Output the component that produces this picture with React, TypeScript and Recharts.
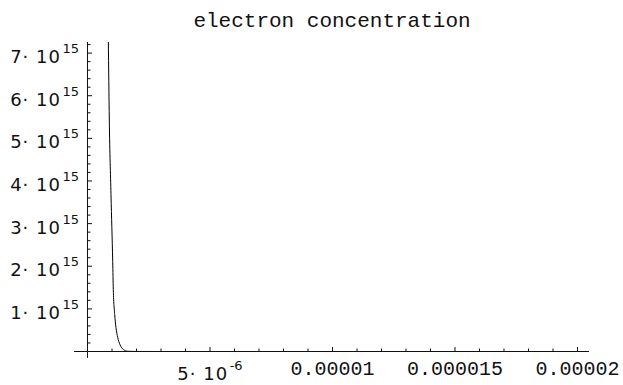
import React from 'react';
import { LineChart, Line, XAxis, YAxis, ReferenceLine } from 'recharts';

// position (m) and electron concentration (1/cm^3)
const positions = [0.82e-6, 0.849e-6, 0.89e-6, 0.959e-6, 1.029e-6, 1.053e-6, 1.11e-6, 1.163e-6, 1.233e-6, 1.327e-6, 1.461e-6, 1.65e-6, 2.0e-6, 3e-6, 5e-6, 10e-6, 15e-6, 20e-6];
const concentration = [8.6e15, 7.31e15, 5.43e15, 3.68e15, 2.11e15, 1.45e15, 0.87e15, 0.56e15, 0.33e15, 0.16e15, 0.047e15, 0.005e15, 0.0005e15, 0, 0, 0, 0, 0];

const xMajorTicks = [5e-6, 1e-5, 1.5e-5, 2e-5];
const xTickLabels = ['5·10^-6', '0.00001', '0.000015', '0.00002'];
const xMinorTicks = [1e-6, 2e-6, 3e-6, 4e-6, 6e-6, 7e-6, 8e-6, 9e-6, 11e-6, 12e-6, 13e-6, 14e-6, 16e-6, 17e-6, 18e-6, 19e-6];

const yMajorTicks = [1e15, 2e15, 3e15, 4e15, 5e15, 6e15, 7e15];
const yTickLabels = ['1·10^15', '2·10^15', '3·10^15', '4·10^15', '5·10^15', '6·10^15', '7·10^15'];
const yMinorTicks = [
  0.2e15, 0.4e15, 0.6e15, 0.8e15, 1.2e15, 1.4e15, 1.6e15, 1.8e15, 2.2e15, 2.4e15, 2.6e15, 2.8e15,
  3.2e15, 3.4e15, 3.6e15, 3.8e15, 4.2e15, 4.4e15, 4.6e15, 4.8e15, 5.2e15, 5.4e15, 5.6e15, 5.8e15,
  6.2e15, 6.4e15, 6.6e15, 6.8e15, 7.2e15,
];

const xDomain = [0, 20.47e-6];
const yDomain = [0, 7.26e15];
const xAxisStart = -0.55e-6;
const yAxisEnd = -0.15e15;

const title = 'electron concentration';

const data = positions.map((x, i) => ({ x, n: concentration[i] }));
const xTicks = [...xMajorTicks, ...xMinorTicks].sort((a, b) => a - b);
const yTicks = [...yMajorTicks, ...yMinorTicks].sort((a, b) => a - b);

const SANS = 'DejaVu Sans';
const MONO = 'Liberation Mono';
const INK = '#111';

const findIdx = (arr: number[], v: number) => arr.findIndex((m) => Math.abs(m - v) < Math.abs(m) * 1e-9);

const XTick = (props: any) => {
  const x = Number(props.x);
  const y = Number(props.y);
  const idx = findIdx(xMajorTicks, props.payload.value);
  const major = idx >= 0;
  const len = major ? 4.5 : 3;
  let label: React.ReactNode = null;
  if (major) {
    const s = xTickLabels[idx];
    if (s.includes('^')) {
      const [base, exp] = s.split('^');
      const [m, p] = base.split('·');
      label = (
        <text x={x} y={y + 28} textAnchor="middle" fontFamily={SANS} fontSize={18} fill={INK}>
          <tspan letterSpacing={1}>{`${m}· ${p}`}</tspan>
          <tspan fontSize={13} dx={1.5} dy={-10}>{exp}</tspan>
        </text>
      );
    } else {
      label = (
        <text x={x} y={y + 23.5} textAnchor="middle" fontFamily={MONO} fontSize={20} fill={INK}>
          {s}
        </text>
      );
    }
  }
  return (
    <g>
      <rect x={x - 0.5} y={y - len} width={1} height={len} fill={INK} />
      {label}
    </g>
  );
};

const YTick = (props: any) => {
  const x = Number(props.x);
  const y = Number(props.y);
  const idx = findIdx(yMajorTicks, props.payload.value);
  const major = idx >= 0;
  const len = major ? 4.5 : 3;
  let label: React.ReactNode = null;
  if (major) {
    const [base, exp] = yTickLabels[idx].split('^');
    const [m, p] = base.split('·');
    label = (
      <text x={x - 8.5} y={y + 10} textAnchor="end" fontFamily={SANS} fontSize={18} fill={INK}>
        <tspan letterSpacing={1}>{`${m}· ${p}`}</tspan>
        <tspan fontSize={13} dx={1.5} dy={-10}>{exp}</tspan>
      </text>
    );
  }
  return (
    <g>
      <rect x={x} y={y - 0.5} width={len} height={1} fill={INK} />
      {label}
    </g>
  );
};

export default function App() {
  return (
    <div style={{ position: 'absolute', left: 0, top: 0, width: 623, height: 385, background: '#fff' }}>
      <svg width={623} height={40} style={{ position: 'absolute', left: 0, top: 0 }}>
        <text x={332} y={27} textAnchor="middle" fontFamily={MONO} fontSize={21} fill={INK}>
          {title}
        </text>
      </svg>
      <div style={{ position: 'absolute', left: 0, top: 0 }}>
        <LineChart
          width={623}
          height={385}
          data={data}
          margin={{ top: 42, right: 34, bottom: 32.5, left: 86.5 }}
        >
          <XAxis
            type="number"
            dataKey="x"
            domain={xDomain}
            ticks={xTicks}
            interval={0}
            height={1}
            tickSize={0}
            tickMargin={0}
            tickLine={false}
            tick={<XTick />}
            axisLine={{ stroke: INK, strokeWidth: 1 }}
            allowDataOverflow
          />
          <YAxis
            type="number"
            domain={yDomain}
            ticks={yTicks}
            interval={0}
            width={1}
            tickSize={0}
            tickMargin={0}
            tickLine={false}
            tick={<YTick />}
            axisLine={{ stroke: INK, strokeWidth: 1 }}
            allowDataOverflow
          />
          <ReferenceLine
            segment={[{ x: xAxisStart, y: 0 }, { x: 0, y: 0 }]}
            stroke={INK}
            strokeWidth={1}
            ifOverflow="visible"
          />
          <ReferenceLine
            segment={[{ x: 0, y: 0 }, { x: 0, y: yAxisEnd }]}
            stroke={INK}
            strokeWidth={1}
            ifOverflow="visible"
          />
          <Line
            type="monotone"
            dataKey="n"
            stroke="#000"
            strokeWidth={1}
            dot={false}
            isAnimationActive={false}
          />
        </LineChart>
      </div>
    </div>
  );
}
